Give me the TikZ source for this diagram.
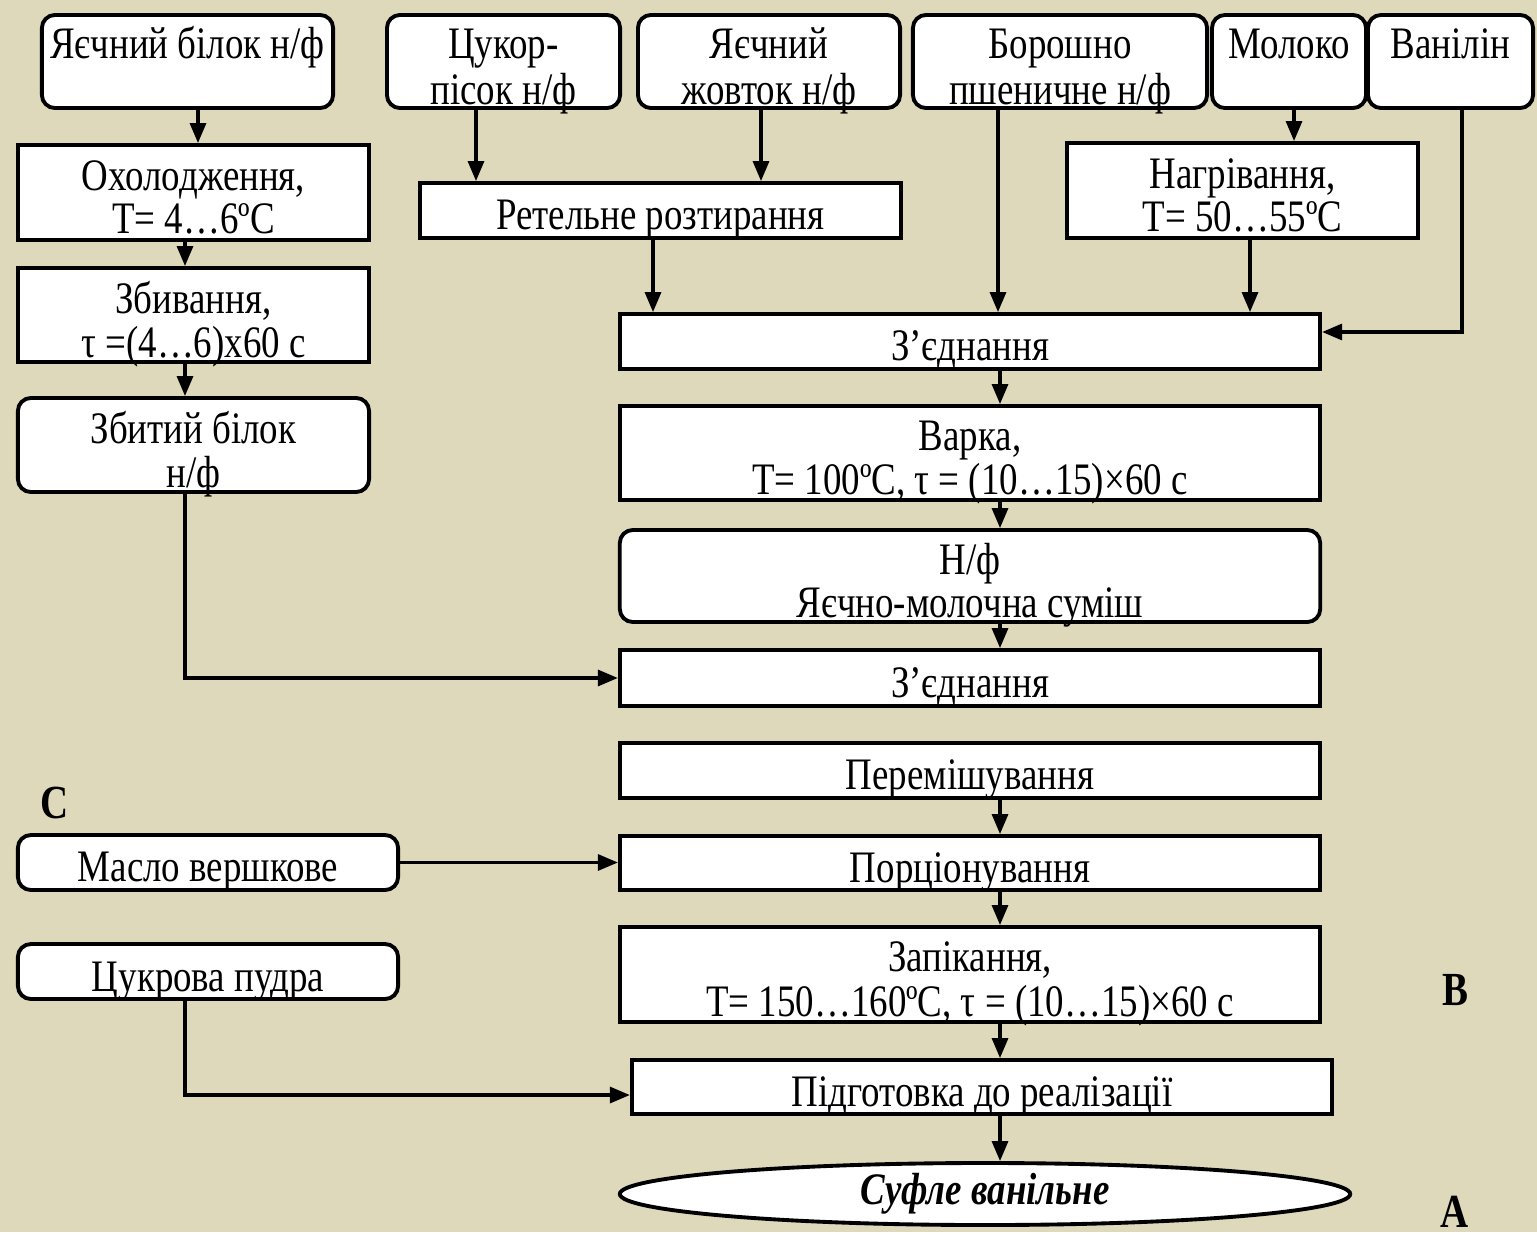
\documentclass[tikz,border=0pt]{standalone}
\usepackage{fontspec}
\setmainfont{Liberation Serif}[FakeStretch=0.82]
\usepackage{tikz}
\usetikzlibrary{arrows.meta, shapes.geometric}

\definecolor{paper}{RGB}{222,217,186}

% text of a box, set a little low as in the original
\newcommand{\boxtext}[1]{\raisebox{-3.1pt}[\height][\depth]{\begin{tabular}{@{}c@{}}#1\end{tabular}}}

\tikzset{
	stage/.style={draw, fill=white, line width=1.1pt, inner sep=0pt,
		font=\fontsize{12.8}{12.2}\selectfont},
	inbox/.style={stage, rounded corners=0.13cm},
	topbox/.style={inbox, minimum height=0.93cm, font=\fontsize{12.8}{12.2}\selectfont\def\arraystretch{1.06}},
	flow/.style={line width=0.9pt, -{Triangle[length=0.2cm, width=0.16cm]}},
	letterlbl/.style={font=\fontsize{13.5}{13}\selectfont\bfseries}
}

\begin{document}
\begin{tikzpicture}[x=0.01cm, y=-0.01cm]
	\fill[paper] (0,0) rectangle (1537,1232);

	% raw materials
	\node[topbox, minimum width=2.91cm] (belok) at (187.5,61.5) {\boxtext{Яєчний білок н/ф\\\mbox{}}};
	\node[topbox, minimum width=2.33cm] (cukor) at (503.5,61.5) {\boxtext{Цукор-\\пісок н/ф}};
	\node[topbox, minimum width=2.62cm] (zhovtok) at (769,61.5) {\boxtext{Яєчний\\жовток н/ф}};
	\node[topbox, minimum width=2.94cm] (boroshno) at (1060,61.5) {\boxtext{Борошно\\пшеничне н/ф}};
	\node[topbox, minimum width=1.54cm] (moloko) at (1289,61.5) {\boxtext{Молоко\\\mbox{}}};
	\node[topbox, minimum width=1.65cm] (vanilin) at (1450.5,61.5) {\boxtext{Ванілін\\\mbox{}}};

	% egg white line
	\node[stage, minimum width=3.51cm, minimum height=0.95cm] (oholodzh) at (193.5,192.5) {\boxtext{Охолодження,\\T= 4…6ºC}};
	\node[stage, minimum width=3.51cm, minimum height=0.94cm] (zbyv) at (193.5,315) {\boxtext{Збивання,\\τ =(4…6)х60 с}};
	\node[inbox, minimum width=3.51cm, minimum height=0.94cm] (zbytyi) at (193.5,445) {\boxtext{Збитий білок\\н/ф}};

	\node[stage, minimum width=4.81cm, minimum height=0.55cm] (retelne) at (660.5,210.5) {\boxtext{Ретельне розтирання}};
	\node[stage, minimum width=3.51cm, minimum height=0.95cm] (nagriv) at (1242.5,190.5) {\boxtext{Нагрівання,\\T= 50…55ºC}};

	% main line
	\node[stage, minimum width=7cm, minimum height=0.55cm] (zjedn1) at (970,341.5) {\boxtext{З’єднання}};
	\node[stage, minimum width=7cm, minimum height=0.94cm] (varka) at (970,453) {\boxtext{Варка,\\T= 100ºC, τ = (10…15)×60 с}};
	\node[inbox, minimum width=7cm, minimum height=0.92cm] (nf) at (970,576) {\boxtext{Н/ф\\Яєчно-молочна суміш}};
	\node[stage, minimum width=7cm, minimum height=0.56cm] (zjedn2) at (970,678) {\boxtext{З’єднання}};
	\node[stage, minimum width=7cm, minimum height=0.55cm] (peremish) at (970,770.5) {\boxtext{Перемішування}};
	\node[stage, minimum width=7cm, minimum height=0.54cm] (porc) at (970,863) {\boxtext{Порціонування}};
	\node[stage, minimum width=7cm, minimum height=0.95cm] (zapik) at (970,974.5) {\boxtext{Запікання,\\T= 150…160ºC, τ = (10…15)×60 с}};
	\node[stage, minimum width=7cm, minimum height=0.54cm] (pidgot) at (982,1087) {\boxtext{Підготовка до реалізації}};
	\node[stage, ellipse, minimum width=7.3cm, minimum height=0.62cm] (sufle) at (985,1194) {\raisebox{-1pt}{\bfseries\itshape Суфле ванільне}};

	\node[inbox, minimum width=3.8cm, minimum height=0.55cm] (maslo) at (208,862.5) {\boxtext{Масло вершкове}};
	\node[inbox, minimum width=3.8cm, minimum height=0.55cm] (cukpudra) at (208,971.5) {\boxtext{Цукрова пудра}};

	\node[letterlbl] (lblc) at (55,803) {C};
	\node[letterlbl] (lblb) at (1455,990) {B};
	\node[letterlbl] (lbla) at (1455,1212) {A};

	% connectors
	\draw[flow] (belok.south -| 198,0) -- (oholodzh.north -| 198,0);
	\draw[flow] (oholodzh.south -| 185,0) -- (zbyv.north -| 185,0);
	\draw[flow] (zbyv.south -| 185,0) -- (zbytyi.north -| 185,0);
	\draw[flow] (zbytyi.south -| 185,0) |- (zjedn2.west);
	\draw[flow] (cukor.south -| 476,0) -- (retelne.north -| 476,0);
	\draw[flow] (zhovtok.south -| 761,0) -- (retelne.north -| 761,0);
	\draw[flow] (retelne.south -| 653,0) -- (zjedn1.north -| 653,0);
	\draw[flow] (boroshno.south -| 998,0) -- (zjedn1.north -| 998,0);
	\draw[flow] (moloko.south -| 1294,0) -- (nagriv.north -| 1294,0);
	\draw[flow] (nagriv.south -| 1250,0) -- (zjedn1.north -| 1250,0);
	\draw[flow] (vanilin.south -| 1462,0) |- ([yshift=0.095cm]zjedn1.east);
	\draw[flow] (zjedn1.south -| 1000,0) -- (varka.north -| 1000,0);
	\draw[flow] (varka.south -| 1000,0) -- (nf.north -| 1000,0);
	\draw[flow] (nf.south -| 1000,0) -- (zjedn2.north -| 1000,0);
	\draw[flow] (peremish.south -| 1000,0) -- (porc.north -| 1000,0);
	\draw[flow] (maslo.east) -- (maslo.east -| porc.west);
	\draw[flow] (porc.south -| 1000,0) -- (zapik.north -| 1000,0);
	\draw[flow] (zapik.south -| 1000,0) -- (pidgot.north -| 1000,0);
	\draw[flow] (cukpudra.south -| 185,0) |- ([yshift=-0.08cm]pidgot.west);
	\draw[flow] (pidgot.south -| 1000,0) -- (sufle.north -| 1000,0);
\end{tikzpicture}
\end{document}
